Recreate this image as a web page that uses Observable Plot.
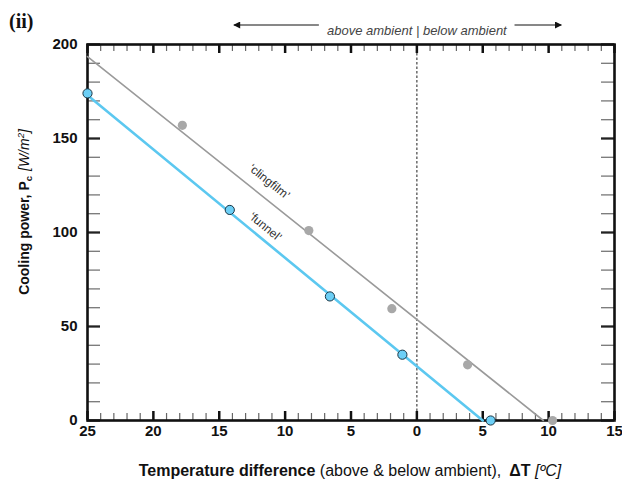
<!DOCTYPE html>
<html>
<head>
<meta charset="utf-8">
<script src="https://cdn.jsdelivr.net/npm/d3@7"></script>
<script src="https://cdn.jsdelivr.net/npm/@observablehq/plot@0.6"></script>
<style>
  html, body { margin: 0; padding: 0; background: #fff; }
  svg { display: block; }
</style>
</head>
<body>
<div id="chart"></div>
<script>
// Tick labels
const xTicks = [-25, -20, -15, -10, -5, 0, 5, 10, 15];
const yTicks = [0, 50, 100, 150, 200];
const xMinor = d3.range(-25, 16, 1);
const yMinor = d3.range(0, 201, 10);

// 'funnel' measurements
const funnelDT = [-25, -14.2, -6.6, -1.1, 5.6];
const funnelP = [174, 112, 66, 35, 0];
// 'clingfilm' measurements
const clingDT = [-17.8, -8.2, -1.9, 3.85, 10.3];
const clingP = [157, 101, 59.5, 29.6, 0];
// fitted lines (end points)
const funnelFitDT = [-25, 5.0];
const funnelFitP = [173, 0];
const clingFitDT = [-25, 9.6];
const clingFitP = [193.6, 0];

const funnel = funnelDT.map((d, i) => ({dt: d, p: funnelP[i]}));
const cling = clingDT.map((d, i) => ({dt: d, p: clingP[i]}));
const funnelFit = funnelFitDT.map((d, i) => ({dt: d, p: funnelFitP[i]}));
const clingFit = clingFitDT.map((d, i) => ({dt: d, p: clingFitP[i]}));

const W = 622, H = 483;
const mL = 87, mR = 8, mT = 44, mB = 63;
const pw = W - mL - mR, ph = H - mT - mB;
const majorX = xMinor.filter(d => d % 5 === 0), minorX = xMinor.filter(d => d % 5 !== 0);
const majorY = yMinor.filter(d => d % 50 === 0), minorY = yMinor.filter(d => d % 50 !== 0);

const chart = Plot.plot({
  width: W, height: H,
  marginLeft: mL, marginRight: mR, marginTop: mT, marginBottom: mB,
  style: {fontFamily: "'Liberation Sans', Arial, sans-serif", background: "#fff", color: "#111"},
  x: {domain: [-25, 15]},
  y: {domain: [0, 200]},
  marks: [
    Plot.ruleX([0], {stroke: "#444", strokeWidth: 1.2, strokeDasharray: "2.5,2"}),
    // bottom & top ticks (inward)
    Plot.tickX(minorX, {x: d => d, insetTop: ph - 7, stroke: "#666", strokeWidth: 1.2}),
    Plot.tickX(majorX, {x: d => d, insetTop: ph - 9, stroke: "#111", strokeWidth: 2.5}),
    Plot.tickX(minorX, {x: d => d, insetBottom: ph - 7, stroke: "#666", strokeWidth: 1.2}),
    Plot.tickX(majorX, {x: d => d, insetBottom: ph - 9, stroke: "#111", strokeWidth: 2.5}),
    // left & right ticks (inward)
    Plot.tickY(minorY, {y: d => d, insetRight: pw - 13, stroke: "#777", strokeWidth: 1.3}),
    Plot.tickY(majorY, {y: d => d, insetRight: pw - 13, stroke: "#222", strokeWidth: 2.3}),
    Plot.tickY(minorY, {y: d => d, insetLeft: pw - 13, stroke: "#777", strokeWidth: 1.3}),
    Plot.tickY(majorY, {y: d => d, insetLeft: pw - 13, stroke: "#222", strokeWidth: 2.3}),
    Plot.frame({stroke: "#111", strokeWidth: 2.6}),
    Plot.line(clingFit, {x: "dt", y: "p", stroke: "#9a9a9a", strokeWidth: 1.6}),
    Plot.line(funnelFit, {x: "dt", y: "p", stroke: "#5cc8f0", strokeWidth: 2.6}),
    Plot.dot(cling, {x: "dt", y: "p", r: 4.6, fill: "#a8a8a8", stroke: "none"}),
    Plot.dot(funnel, {x: "dt", y: "p", r: 4.6, fill: "#6ccff6", stroke: "#1c3644", strokeWidth: 1}),
    Plot.text(["\u2018clingfilm\u2019"], {x: -11.2, y: 127, rotate: 38.7, fontSize: 12, fill: "#333"}),
    Plot.text(["\u2018funnel\u2019"], {x: -11.5, y: 103, rotate: 39.5, fontSize: 12, fill: "#333"}),
    Plot.text(["above ambient | below ambient"], {x: 0, frameAnchor: "top", dy: -19, fontSize: 13, fontStyle: "italic", fill: "#444"}),
    Plot.axisX(xTicks, {tickSize: 0, tickPadding: 5, tickFormat: d => Math.abs(d), fontWeight: "bold", fontSize: 15, label: null}),
    Plot.axisY(yTicks, {tickSize: 0, tickPadding: 10, fontWeight: "bold", fontSize: 15, label: null})
  ]
});

document.getElementById("chart").appendChild(chart);

const svg = d3.select(chart);
const xs = chart.scale("x");
const ay = 25;

// arrows
const defs = svg.append("defs");
defs.append("marker").attr("id", "ah").attr("viewBox", "0 0 10 10").attr("refX", 9).attr("refY", 5)
  .attr("markerWidth", 10).attr("markerHeight", 7).attr("markerUnits", "userSpaceOnUse").attr("orient", "auto")
  .append("path").attr("d", "M0,0 L10,5 L0,10 z").attr("fill", "#111");
svg.append("line").attr("x1", xs.apply(-7.4)).attr("x2", xs.apply(-13.85)).attr("y1", ay).attr("y2", ay)
  .attr("stroke", "#111").attr("stroke-width", 1).attr("marker-end", "url(#ah)");
svg.append("line").attr("x1", xs.apply(7.45)).attr("x2", xs.apply(11.0)).attr("y1", ay).attr("y2", ay)
  .attr("stroke", "#111").attr("stroke-width", 1).attr("marker-end", "url(#ah)");

// panel title
svg.append("text").attr("x", 9).attr("y", 28).attr("text-anchor", "start")
  .attr("font-family", "'Liberation Serif', 'DejaVu Serif', serif").attr("font-weight", "bold")
  .attr("font-size", 20).attr("fill", "#111").text("(ii)");

// x axis title
const xt = svg.append("text").attr("x", 350).attr("y", 476).attr("text-anchor", "middle")
  .attr("font-size", 16).attr("fill", "#111");
xt.append("tspan").attr("font-weight", "bold").text("Temperature difference");
xt.append("tspan").text(" (above & below ambient),");
xt.append("tspan").attr("font-weight", "bold").attr("dx", 8).text("\u0394T ");
xt.append("tspan").attr("font-style", "italic").text("[\u00BAC]");

// y axis title
const yt = svg.append("text").attr("transform", "translate(29,212) rotate(-90)").attr("text-anchor", "middle")
  .attr("font-size", 14).attr("fill", "#111");
yt.append("tspan").attr("font-weight", "bold").text("Cooling power, P");
yt.append("tspan").attr("font-weight", "bold").attr("font-size", 9.5).attr("dy", 3).text("c");
yt.append("tspan").attr("dy", -3).attr("font-style", "italic").attr("dx", 5).text("[W/m");
yt.append("tspan").attr("font-style", "italic").attr("font-size", 9.5).attr("dy", -5).text("2");
yt.append("tspan").attr("font-style", "italic").attr("dy", 5).text("]");
</script>
</body>
</html>
